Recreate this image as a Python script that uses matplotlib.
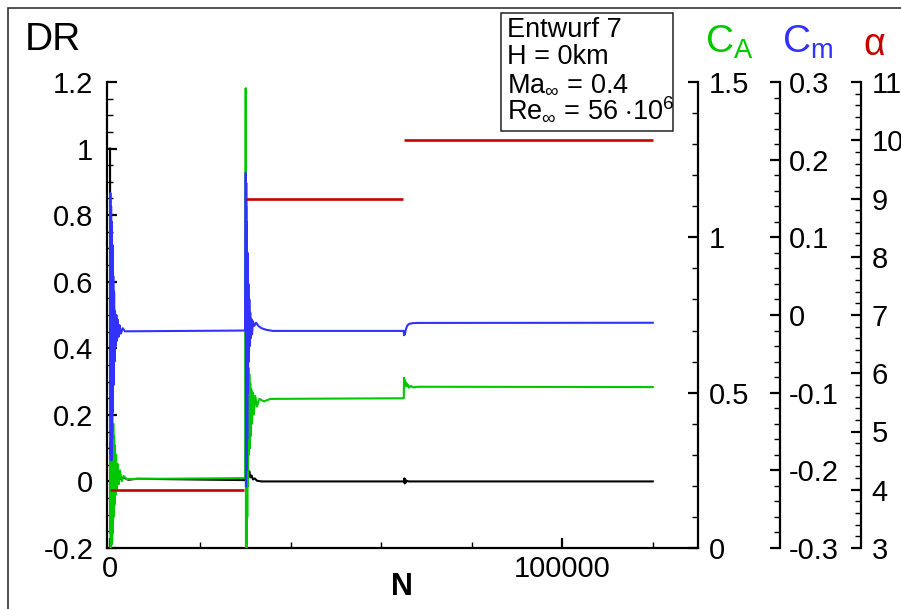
import matplotlib
matplotlib.use('Agg')
import matplotlib.pyplot as plt
from matplotlib.ticker import MultipleLocator, FuncFormatter
from matplotlib.patches import Rectangle

plt.rcParams['font.family'] = ['Liberation Sans', 'DejaVu Sans']
plt.rcParams['mathtext.fontset'] = 'custom'
plt.rcParams['mathtext.rm'] = 'Liberation Sans'
plt.rcParams['mathtext.it'] = 'Liberation Sans'
plt.rcParams['mathtext.bf'] = 'Liberation Sans:bold'
plt.rcParams['axes.unicode_minus'] = False

# ---- values (N = iteration) ----
# DR residual (black, left axis)
n_dr = [0, 60, 120, 200, 300, 400, 500, 600, 750, 900, 1100, 1300, 1600, 2000, 2500, 3000, 4000, 6000, 29900,
        30000, 30200, 30400, 30600, 30800, 31000, 31300, 31600, 32000, 32500, 33500, 35000, 64950,
        65000, 65080, 65160, 65250, 65400, 65600, 66000, 120000]
dr = [1.0, 0.45, 0.02, 0.12, -0.03, 0.07, -0.01, 0.05, 0.0, 0.035, 0.005, 0.025, 0.003, 0.018, 0.006, 0.012, 0.005, 0.008, 0.004,
      0.01, 0.03, 0.056, 0.02, 0.03, 0.012, 0.018, 0.006, 0.009, 0.002, 0.0, 0.0, 0.0,
      0.0, 0.009, -0.006, 0.006, -0.003, 0.002, 0.0, 0.0]

# lift coefficient C_A (green)
n_ca = [0, 80, 160, 240, 320, 400, 480, 560, 640, 720, 800, 900, 1000, 1100, 1200, 1350, 1500, 1700, 1900, 2200, 2600, 3000, 3600, 29900,
        30000, 30060, 30120, 30180, 30260, 30340, 30420, 30500, 30600, 30700, 30800, 30900, 31000, 31100, 31250, 31400, 31600, 31800, 32100, 32500, 33000, 34000, 35500, 64950,
        65000, 65100, 65200, 65300, 65450, 65600, 65800, 66100, 66500, 67000, 68000, 120000]
ca = [0.05, 0.3, 0.0, 0.34, 0.01, 0.37, 0.02, 0.39, 0.05, 0.40, 0.1, 0.36, 0.14, 0.33, 0.17, 0.3, 0.19, 0.27, 0.205, 0.25, 0.215, 0.232, 0.222, 0.225,
      1.48, -0.05, 1.1, 0.0, 0.8, 0.1, 0.62, 0.2, 0.58, 0.3, 0.56, 0.32, 0.53, 0.36, 0.51, 0.40, 0.50, 0.43, 0.49, 0.455, 0.48, 0.472, 0.48, 0.482,
      0.548, 0.52, 0.54, 0.522, 0.533, 0.52, 0.527, 0.516, 0.522, 0.517, 0.519, 0.518]

# pitching moment C_m (blue)
n_cm = [0, 80, 160, 240, 320, 400, 480, 560, 640, 720, 800, 900, 1000, 1100, 1250, 1400, 1550, 1700, 1900, 2100, 2400, 2800, 3300, 29900,
        30000, 30060, 30120, 30180, 30260, 30340, 30420, 30500, 30600, 30700, 30800, 30900, 31000, 31100, 31250, 31400, 31600, 31900, 32300, 32800, 33500, 34500, 36000, 64950,
        65000, 65100, 65200, 65350, 65500, 65700, 66000, 66400, 67000, 68000, 120000]
cm = [-0.02, 0.157, -0.187, 0.14, -0.187, 0.12, -0.16, 0.09, -0.125, 0.05, -0.09, 0.03, -0.06, 0.005, -0.04, 0.0, -0.033, -0.006, -0.028, -0.013, -0.024, -0.017, -0.021, -0.02,
      0.183, -0.221, 0.17, -0.2, 0.12, -0.16, 0.08, -0.1, 0.04, -0.06, 0.02, -0.04, 0.003, -0.03, -0.005, -0.025, -0.008, -0.014, -0.01, -0.014, -0.017, -0.019, -0.0205, -0.0205,
      -0.026, -0.022, -0.025, -0.02, -0.017, -0.014, -0.012, -0.011, -0.0105, -0.0102, -0.01]

# angle of attack alpha (red), one level per run segment
alpha_start = [0, 30000, 65000]
alpha_end = [29700, 64700, 120000]
alpha = [4, 9, 10]

info_lines = ['Entwurf 7', 'H = 0km', r'Ma$_{\infty}$ = 0.4', r'Re$_{\infty}$ = 56 $\cdot$10$^{6}$']

GREEN = '#00c800'
BLUE = '#3232ff'
RED = '#c80000'


def fmt(v, pos):
    return f'{round(v, 6) + 0:g}'


W, H = 901, 609
fig = plt.figure(figsize=(W / 100, H / 100), dpi=100)
ax = fig.add_axes([106.5 / W, 61 / H, 591.5 / W, 466 / H])
ax_ca = ax.twinx()
ax_cm = ax.twinx()
ax_al = ax.twinx()

ax.plot(n_dr, dr, color='k', lw=1.5)
ax_ca.plot(n_ca, ca, color=GREEN, lw=1.5)
ax_cm.plot(n_cm, cm, color=BLUE, lw=1.5)
ax_al.hlines(alpha, alpha_start, alpha_end, color=RED, lw=1.9)

ax.set_xlim(-780, 130000)
ax.set_ylim(-0.2, 1.2)
ax_ca.set_ylim(0, 1.5)
ax_cm.set_ylim(-0.3, 0.3)
ax_al.set_ylim(3, 11)

ax.spines['top'].set_visible(False)
ax.spines['right'].set_visible(False)
for a in (ax_ca, ax_cm, ax_al):
    for s in ('top', 'bottom', 'left'):
        a.spines[s].set_visible(False)
ax_cm.spines['right'].set_position(('axes', 1.1378))
ax_al.spines['right'].set_position(('axes', 1.2756))
for a in (ax, ax_ca, ax_cm, ax_al):
    for s in a.spines.values():
        s.set_linewidth(1.6)

ax.xaxis.set_major_locator(MultipleLocator(100000))
ax.xaxis.set_minor_locator(MultipleLocator(20000))
ax.yaxis.set_major_locator(MultipleLocator(0.2))
ax.yaxis.set_minor_locator(MultipleLocator(0.05))
ax_ca.yaxis.set_major_locator(MultipleLocator(0.5))
ax_ca.yaxis.set_minor_locator(MultipleLocator(0.1))
ax_cm.yaxis.set_major_locator(MultipleLocator(0.1))
ax_cm.yaxis.set_minor_locator(MultipleLocator(0.02))
ax_al.yaxis.set_major_locator(MultipleLocator(1))
ax_al.yaxis.set_minor_locator(MultipleLocator(0.2))
for axis in (ax.xaxis, ax.yaxis, ax_ca.yaxis, ax_cm.yaxis, ax_al.yaxis):
    axis.set_major_formatter(FuncFormatter(fmt))

tick_kw = dict(direction='in', labelsize=21)
ax.tick_params(axis='y', which='major', length=7.5, width=1.6, pad=9.5, **tick_kw)
ax.tick_params(axis='y', which='minor', length=4.3, width=1.0, direction='in')
ax.tick_params(axis='x', which='major', length=7.5, width=1.6, pad=5, **tick_kw)
ax.tick_params(axis='x', which='minor', length=4.3, width=1.0, direction='in')
for a, p in ((ax_ca, 8), (ax_cm, 7), (ax_al, 7.5)):
    a.tick_params(axis='y', which='major', length=7.5, width=1.6, pad=p, **tick_kw)
    a.tick_params(axis='y', which='minor', length=4.3, width=1.0, direction='in')

ax.set_xlabel('N', fontsize=22, fontweight='bold')
ax.xaxis.set_label_coords(0.5, (H - 595 - 61) / 466)
ax.xaxis.label.set_verticalalignment('baseline')

# axis titles
fig.text(25 / W, (H - 50) / H, 'DR', fontsize=28, va='baseline')
fig.text(705 / W, (H - 53) / H, r'C$_{\rm A}$', fontsize=28, color=GREEN, va='baseline')
fig.text(782 / W, (H - 53) / H, r'C$_{\rm m}$', fontsize=28, color=BLUE, va='baseline')
fig.text(863 / W, (H - 55) / H, 'α', fontsize=27, color=RED, va='baseline')

# info box
fig.add_artist(Rectangle((501 / W, (H - 131) / H), 172 / W, 118 / H, fill=False,
                         lw=1.1, ec='#222222', transform=fig.transFigure))
for i, line in enumerate(info_lines):
    fig.text(507 / W, (H - 37 - 27 * i) / H, line, fontsize=19.5, va='baseline')

# outer frame
fig.add_artist(Rectangle((8.3 / W, -0.1), 1.2, (H - 8) / H + 0.1, fill=False,
                         lw=1.1, ec='#222222', transform=fig.transFigure, clip_on=False))

fig.savefig('out.png', dpi=100)
